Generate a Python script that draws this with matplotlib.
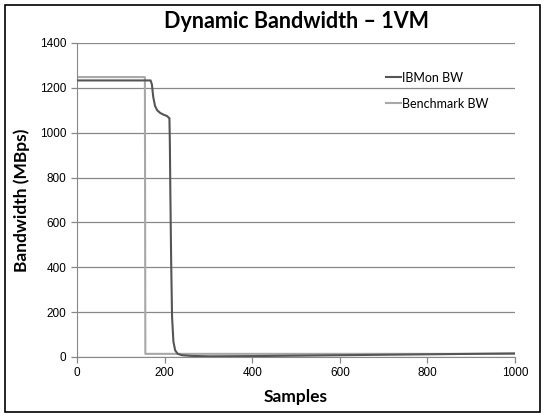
import matplotlib
matplotlib.use("Agg")
import matplotlib.pyplot as plt
from matplotlib.patches import Rectangle

# breakpoints of the two traces (sample index, MBps)
ibmon_samples = [0, 168, 171, 174, 178, 183, 190, 198, 205, 209, 211, 212, 213, 215, 217, 220, 224, 230, 240, 260, 300, 400, 500, 600, 700, 800, 900, 1000]
ibmon_bw = [1233, 1233, 1215, 1160, 1120, 1100, 1088, 1080, 1075, 1068, 1065, 950, 750, 420, 180, 70, 30, 14, 8, 5, 3, 4, 6, 8, 10, 12, 14, 16]

bench_samples = [0, 155, 156, 1000]
bench_bw = [1248, 1248, 14, 14]

x_ticks = [0, 200, 400, 600, 800, 1000]
y_ticks = [0, 200, 400, 600, 800, 1000, 1200, 1400]

fig = plt.figure(figsize=(5.45, 4.17), dpi=100)
ax = fig.add_axes([0.1413, 0.1439, 0.8037, 0.753])

ax.plot(ibmon_samples, ibmon_bw, color="#555555", lw=1.5, label="IBMon BW", zorder=3)
ax.plot(bench_samples, bench_bw, color="#a8a8a8", lw=1.5, label="Benchmark BW", zorder=2)

ax.set_xlim(0, 1000)
ax.set_ylim(0, 1400)
ax.set_xticks(x_ticks)
ax.set_yticks(y_ticks)
ax.grid(axis="y", color="#888888", lw=0.9)
ax.set_axisbelow(True)
for s in ["top", "right"]:
    ax.spines[s].set_visible(False)
for s in ["left", "bottom"]:
    ax.spines[s].set_color("#888888")
ax.tick_params(colors="#888888", labelcolor="black", labelsize=8.5,
               length=4, width=0.9)
for lab in ax.get_xticklabels() + ax.get_yticklabels():
    lab.set_family("Liberation Sans")

ax.set_title("Dynamic Bandwidth \u2013 1VM", fontsize=15.5, fontweight="bold",
             family="Lato", pad=11)
ax.set_xlabel("Samples", fontsize=12.5, fontweight="bold", family="Lato", labelpad=7)
ax.set_ylabel("Bandwidth (MBps)", fontsize=12.5, fontweight="bold", family="Lato", labelpad=7)

leg = ax.legend(loc="upper right", bbox_to_anchor=(0.965, 0.944), frameon=False,
                handlelength=1.2, handletextpad=0.1, labelspacing=1.1,
                prop={"family": "Lato", "size": 9})

fig.patches.append(Rectangle((0.009, 0.012), 0.982, 0.976, transform=fig.transFigure,
                             fill=False, edgecolor="black", lw=1.2))

fig.savefig("out.png", dpi=100)
